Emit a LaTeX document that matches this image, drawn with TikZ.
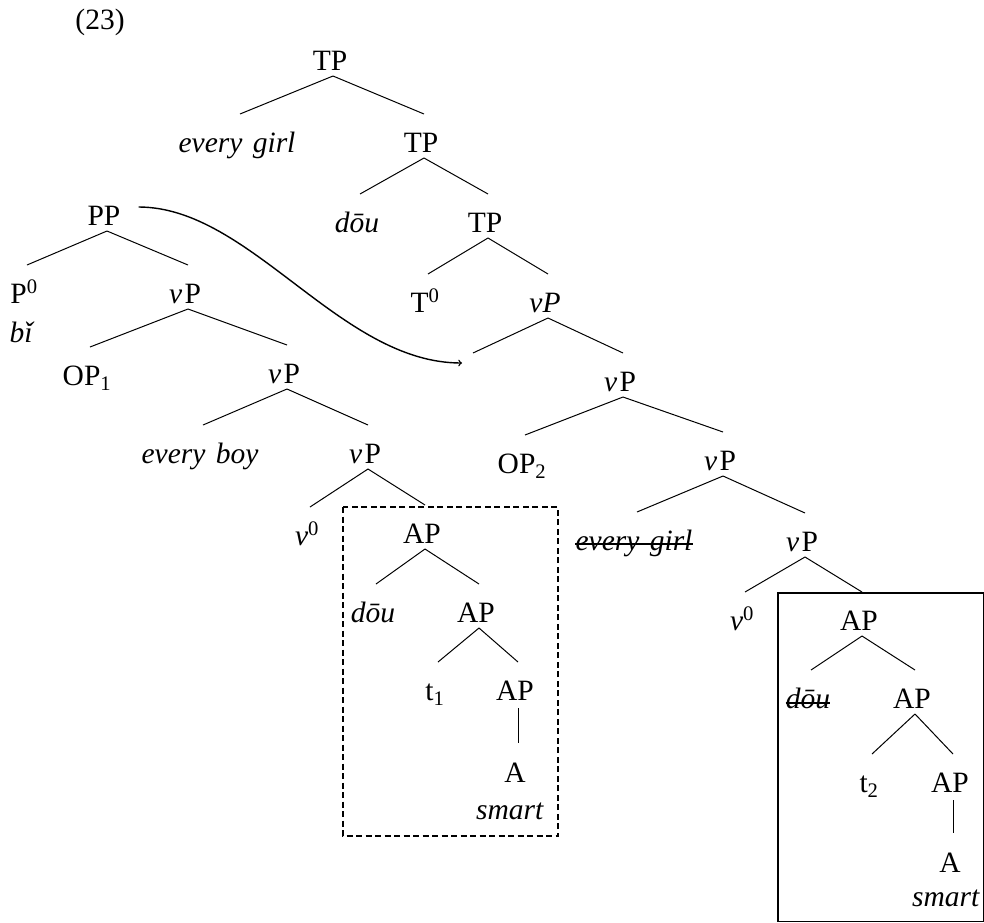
\documentclass[tikz,border=0pt]{standalone}
\usepackage{fontspec}
\setmainfont{Liberation Serif}
\usetikzlibrary{calc}
\tikzset{
  lbl/.style={anchor=base, inner sep=0pt, font=\fontsize{29.5}{34}\selectfont},
  branch/.style={line width=1pt},
  strike/.style={line width=1.6pt},
  dashbox/.style={line width=1.3pt, dash pattern=on 6pt off 3.5pt},
  solidbox/.style={line width=1.2pt},
  movearrow/.style={line width=1.4pt, ->},
}
\newcommand\brn[2]{\draw[branch] ($(#1.base)+(3,6)$) -- ($(#2.base)+(3,-38)$);}
\newcommand\unary[2]{\draw[branch] ($(#1.base)+(3,8)$) -- ($(#2.base)+(3,-39)$);}
\newcommand\vv{\textit{v}\kern2.5pt P}
\begin{document}
\begin{tikzpicture}[x=1pt,y=-1pt]
\useasboundingbox (0,0) rectangle (984,922);
% example number
\node[lbl] (n23) at (100,29) {(23)};
% main tree
\node[lbl] (tp1) at (330,70) {TP};
\node[lbl] (eg1) at (237,152) {\textit{every\kern3pt\ girl}};
\node[lbl] (tp2) at (421,152) {TP};
\node[lbl] (dou1) at (357,232) {\textit{dōu}};
\node[lbl] (tp3) at (485,232) {TP};
\node[lbl] (t0) at (425,312) {T\textsuperscript{0}};
\node[lbl] (vpi) at (545,312) {\textit{vP}};
\coordinate (gap) at (473,353);
\coordinate (arrowend) at (462,363);
\node[lbl] (vp5) at (620,391) {\vv};
\node[lbl] (op2) at (522,473) {OP\textsubscript{2}};
\node[lbl] (vp6) at (720,470) {\vv};
\node[lbl] (eg2) at (634,550) {\textit{every\kern3pt\ girl}};
\node[lbl] (vp7) at (802,551) {\vv};
\node[lbl] (v0b) at (742,630) {\textit{v}\textsuperscript{0}};
\node[lbl] (apb1) at (859,630) {AP};
\node[lbl] (doub) at (808,708) {\textit{dōu}};
\node[lbl] (apb2) at (912,708) {AP};
\node[lbl] (t2) at (869,792) {t\textsubscript{2}};
\node[lbl] (apb3) at (950,792) {AP};
\node[lbl] (ab) at (950,872) {A};
\node[lbl] (smartb) at (946,906) {\textit{smart}};
% PP tree
\node[lbl] (pp) at (104,225) {PP};
\node[lbl] (p0) at (24,303) {P\textsuperscript{0}};
\node[lbl] (bi) at (22,342) {\textit{bǐ}};
\node[lbl] (vp2) at (185,303) {\vv};
\node[lbl] (op1) at (87,385) {OP\textsubscript{1}};
\node[lbl] (vp3) at (284,383) {\vv};
\node[lbl] (eb) at (200,463) {\textit{every\kern3pt\ boy}};
\node[lbl] (vp4) at (365,463) {\vv};
\node[lbl] (v0a) at (307,545) {\textit{v}\textsuperscript{0}};
\node[lbl] (apa1) at (422,543) {AP};
\node[lbl] (doua) at (373,622) {\textit{dōu}};
\node[lbl] (apa2) at (476,622) {AP};
\node[lbl] (t1) at (435,700) {t\textsubscript{1}};
\node[lbl] (apa3) at (515,700) {AP};
\node[lbl] (aa) at (515,782) {A};
\node[lbl] (smarta) at (510,819) {\textit{smart}};
% branches main tree
\brn{tp1}{eg1} \brn{tp1}{tp2}
\brn{tp2}{dou1} \brn{tp2}{tp3}
\brn{tp3}{t0} \brn{tp3}{vpi}
\draw[branch] ($(vpi.base)+(3,6)$) -- (gap);
\brn{vpi}{vp5}
\brn{vp5}{op2} \brn{vp5}{vp6}
\brn{vp6}{eg2} \brn{vp6}{vp7}
\brn{vp7}{v0b} \brn{vp7}{apb1}
\brn{apb1}{doub} \brn{apb1}{apb2}
\brn{apb2}{t2} \brn{apb2}{apb3}
\unary{apb3}{ab}
% branches PP tree
\brn{pp}{p0} \brn{pp}{vp2}
\brn{vp2}{op1} \brn{vp2}{vp3}
\brn{vp3}{eb} \brn{vp3}{vp4}
\brn{vp4}{v0a} \brn{vp4}{apa1}
\brn{apa1}{doua} \brn{apa1}{apa2}
\brn{apa2}{t1} \brn{apa2}{apa3}
\unary{apa3}{aa}
% strike-throughs
\draw[strike] ($(eg2.base west)+(0,-6)$) -- ($(eg2.base east)+(0,-6)$);
\draw[strike] ($(doub.base west)+(0,-5)$) -- ($(doub.base east)+(0,-5)$);
% boxes
\draw[dashbox] (343,507) rectangle (558,836);
\draw[solidbox] (778,593) rectangle (983.4,921.4);
% movement arrow
\coordinate (arrstart) at ($(pp.base east)+(18,-18)$);
\draw[movearrow] (arrstart) .. controls ($(arrstart)+(112,0)$) and ($(arrowend)+(-122,0)$) .. (arrowend);
\end{tikzpicture}
\end{document}
